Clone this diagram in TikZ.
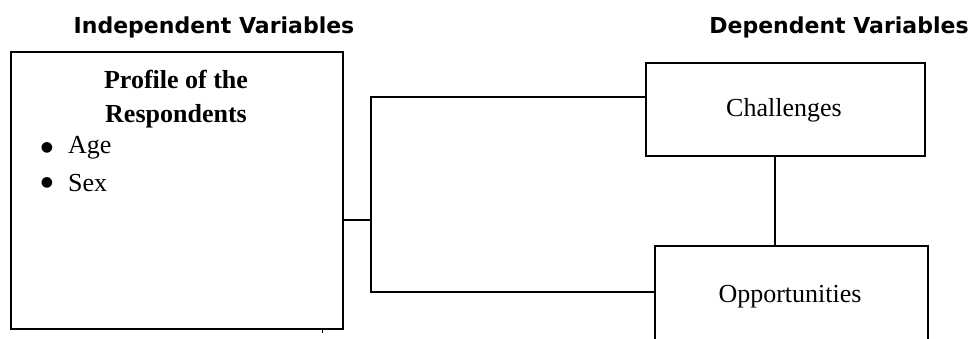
\documentclass[tikz,border=0pt]{standalone}
\usepackage{fontspec}
\setmainfont{Liberation Serif}
\newfontfamily\titlefont{DejaVu Sans}
\begin{document}
\begin{tikzpicture}[x=1pt,y=-1pt,
  box/.style={draw, line width=1.8pt, inner sep=0pt, anchor=north west},
  wire/.style={line width=1.8pt},
  title/.style={font=\titlefont\bfseries\fontsize{22}{26}\selectfont, inner sep=0pt},
  body/.style={font=\fontsize{26}{34}\selectfont, inner sep=0pt},
  dot/.style={font=\titlefont\fontsize{14}{16}\selectfont, inner sep=0pt}]
\useasboundingbox (0,0) rectangle (976,338);
\clip (0,0) rectangle (976,338);
% titles
\node[title] (ti) at (214,27) {Independent Variables};
\node[title] (td) at (839,27) {Dependent Variables};
% left box
\node[box, minimum width=332pt, minimum height=277pt] (L) at (10,51) {};
\node[body, font=\fontsize{26}{34}\selectfont\bfseries, align=center] (prof) at (176,99) {Profile of the\\Respondents};
\node[dot] (b1) at (47,148) {●};
\node[body, anchor=west] (age) at (68,148) {Age};
\node[dot] (b2) at (47,183) {●};
\node[body, anchor=west] (sex) at (68,183) {Sex};
% right boxes
\node[box, minimum width=279pt, minimum height=93pt] (C) at (645,62) {};
\node[body] (ct) at (784,110) {Challenges};
\node[box, minimum width=273pt, minimum height=120pt] (O) at (654,245) {};
\node[body] (ot) at (790,297) {Opportunities};
% connectors
\coordinate (j) at (371,220);
\coordinate (jt) at (371,97);
\coordinate (jb) at (371,292);
\draw[wire] (L.east |- j) -- (j);
\draw[wire] (C.west |- jt) -- (jt) -- (jb) -- (O.west |- jb);
\draw[wire] (C.south -| 775,0) -- (O.north -| 775,0);
% small mark
\fill (321.5,330) rectangle (323,333);
\end{tikzpicture}
\end{document}
